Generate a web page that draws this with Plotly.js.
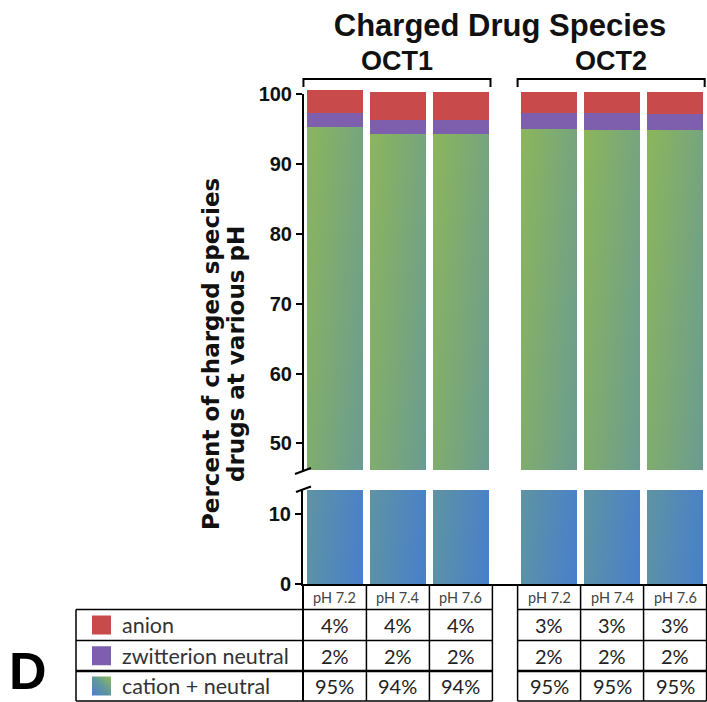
<!DOCTYPE html>
<html>
<head>
<meta charset="utf-8">
<script src="https://cdn.plot.ly/plotly-3.0.1.min.js"></script>
<style>
  html, body { margin: 0; padding: 0; background: #fff; }
  #chart { width: 707px; height: 702px; }
</style>
</head>
<body>
<svg width="0" height="0" style="position:absolute">
  <defs>
    <linearGradient id="gradTop" x1="0" y1="0" x2="1" y2="1">
      <stop offset="0" stop-color="#8cb65a"/>
      <stop offset="1" stop-color="#5f93a4"/>
    </linearGradient>
    <linearGradient id="gradBot" x1="0" y1="0" x2="1" y2="1">
      <stop offset="0" stop-color="#72a383"/>
      <stop offset="1" stop-color="#477fcc"/>
    </linearGradient>
    <linearGradient id="gradLegend" x1="0" y1="1" x2="1" y2="0">
      <stop offset="0" stop-color="#4a7fc8"/>
      <stop offset="0.5" stop-color="#5f98a0"/>
      <stop offset="1" stop-color="#8fba58"/>
    </linearGradient>
  </defs>
</svg>
<div id="chart"></div>
<script>
// ---------------- data ----------------
const groups = ['OCT1', 'OCT2'];
const phLabels = ['pH 7.2', 'pH 7.4', 'pH 7.6'];
const speciesLabels = ['anion', 'zwitterion neutral', 'cation + neutral'];
// bar values (percent): OCT1 pH7.2, 7.4, 7.6, OCT2 pH7.2, 7.4, 7.6
const cation     = [95.2, 94.3, 94.3, 95.0, 94.9, 94.9];
const zwitterion = [2.1, 2.0, 2.0, 2.3, 2.3, 2.2];
const anion      = [3.2, 4.0, 4.0, 3.0, 3.1, 3.2];
// table texts
const anionPct      = ['4%', '4%', '4%', '3%', '3%', '3%'];
const zwitterionPct = ['2%', '2%', '2%', '2%', '2%', '2%'];
const cationPct     = ['95%', '94%', '94%', '95%', '95%', '95%'];
const topTicks = [50, 60, 70, 80, 90, 100];
const bottomTicks = [0, 10];
const yTitleLines = ['Percent of charged species', 'drugs at various pH'];

// ---------------- layout helpers ----------------
const W = 707, H = 702;
const M = {l: 303, r: 0, t: 89, b: 118};
const PW = W - M.l - M.r, PH = H - M.t - M.b;
const XR = [-0.507, 5.907];
const groupGap = 0.4;
const px = v => (v - M.l) / PW;               // pixel x -> paper
const py = v => (H - M.b - v) / PH;           // pixel y -> paper
const xp = xv => (xv - XR[0]) / (XR[1] - XR[0]); // data x -> paper

const xPos = [];
groups.forEach((g, gi) => phLabels.forEach((p, pi) => xPos.push(gi * (phLabels.length + groupGap) + pi)));

const colAnion = '#c94a4a';
const colZw = '#7e5fad';
const colCation = '#6e9e88';

const traces = [
  {type: 'bar', x: xPos, y: cation, xaxis: 'x', yaxis: 'y', width: 0.9, uid: 'cationBottom',
   marker: {color: colCation, line: {width: 0}}, hoverinfo: 'skip', showlegend: false},
  {type: 'bar', x: xPos, y: cation, xaxis: 'x', yaxis: 'y2', width: 0.9, uid: 'cationTop',
   marker: {color: colCation, line: {width: 0}}, hoverinfo: 'skip', showlegend: false},
  {type: 'bar', x: xPos, y: zwitterion, xaxis: 'x', yaxis: 'y2', width: 0.9, uid: 'zw',
   marker: {color: colZw, line: {width: 0}}, hoverinfo: 'skip', showlegend: false},
  {type: 'bar', x: xPos, y: anion, xaxis: 'x', yaxis: 'y2', width: 0.9, uid: 'anion',
   marker: {color: colAnion, line: {width: 0}}, hoverinfo: 'skip', showlegend: false}
];

const boldFont = 'Liberation Sans, Arial, sans-serif';
const wideFont = 'DejaVu Sans, Verdana, sans-serif';
const tableFont = 'Lato, Open Sans, sans-serif';

const shapes = [];
const annotations = [];
const line = (x0, y0, x1, y1, w) => shapes.push({type: 'line', xref: 'paper', yref: 'paper',
  x0: x0, y0: y0, x1: x1, y1: y1, line: {color: '#000', width: w || 1.5}});

// top axis line (broken axis)
shapes.push({type: 'line', xref: 'paper', yref: 'y2', x0: 0, x1: 0, y0: 46.2, y1: 100,
  line: {color: '#000', width: 2}});
// break slashes
line(px(295), py(474), px(311), py(468), 2);
line(px(296), py(492), px(311), py(486.5), 2);

// group brackets and labels
groups.forEach((g, gi) => {
  const first = gi * (phLabels.length + groupGap);
  const last = first + phLabels.length - 1;
  const a = xp(first - 0.5), b = xp(last + 0.47);
  shapes.push({type: 'path', xref: 'paper', yref: 'paper',
    path: `M ${a} ${py(87)} L ${a} ${py(79)} L ${b} ${py(79)} L ${b} ${py(87)}`,
    line: {color: '#000', width: 2}});
  annotations.push({xref: 'paper', yref: 'paper', x: (a + b) / 2, y: py(61.5), text: g,
    showarrow: false, xanchor: 'center', yanchor: 'middle',
    font: {family: boldFont, size: 27, color: '#111', weight: 'bold'}});
});

// ---------------- table ----------------
const rowY = [609.5, 640.5, 671, 701];  // row boundaries (pixels)
const headTop = 584;
line(px(76), py(rowY[0]), px(76), py(rowY[3]));
line(px(303), py(headTop), px(303), py(rowY[3]), 2);
groups.forEach((g, gi) => {
  const first = gi * (phLabels.length + groupGap);
  const xs = [];
  for (let k = 0; k <= phLabels.length; k++) xs.push(xp(first - 0.5 + k));
  xs.forEach((xx, k) => { if (!(gi === 0 && k === 0)) line(xx, py(headTop), xx, py(rowY[3])); });
  const left = gi === 0 ? px(76) : xs[0];
  rowY.forEach((ry, k) => line(left, py(ry), xs[xs.length - 1], py(ry), k === 2 ? 2.5 : 1.5));
});
// header cells
xPos.forEach((xv, i) => {
  annotations.push({xref: 'paper', yref: 'paper', x: xp(xv), y: py(597), text: phLabels[i % phLabels.length],
    showarrow: false, xanchor: 'center', yanchor: 'middle', font: {family: tableFont, size: 14.5, color: '#444'}});
});
const rowTexts = [anionPct, zwitterionPct, cationPct];
rowTexts.forEach((arr, r) => {
  const cy = (rowY[r] + rowY[r + 1]) / 2;
  arr.forEach((t, i) => annotations.push({xref: 'paper', yref: 'paper', x: xp(xPos[i]), y: py(cy), text: t,
    showarrow: false, xanchor: 'center', yanchor: 'middle', font: {family: tableFont, size: 20, color: '#222'}}));
  annotations.push({xref: 'paper', yref: 'paper', x: px(120), y: py(cy), text: speciesLabels[r],
    showarrow: false, xanchor: 'left', yanchor: 'middle', font: {family: tableFont, size: 21.5, color: '#333'}});
});
// legend swatches
const swatchColors = [colAnion, colZw, colCation];
const swatchIdx = [];
swatchColors.forEach((c, r) => {
  const cy = (rowY[r] + rowY[r + 1]) / 2;
  swatchIdx.push(shapes.length);
  shapes.push({type: 'rect', xref: 'paper', yref: 'paper', x0: px(92), x1: px(111), y0: py(cy - 9.5), y1: py(cy + 9.5),
    fillcolor: c, line: {width: 0}});
});

// panel letter and y title
annotations.push({xref: 'paper', yref: 'paper', x: px(28), y: py(671), text: 'D', showarrow: false,
  xanchor: 'center', yanchor: 'middle', font: {family: boldFont, size: 52, color: '#000', weight: 'bold'}});
[211, 236].forEach((cx, k) => annotations.push({xref: 'paper', yref: 'paper', x: px(cx), y: py(354),
  text: yTitleLines[k], showarrow: false, textangle: -90, xanchor: 'center', yanchor: 'middle',
  font: {family: wideFont, size: 23, color: '#111', weight: 'bold'}}));

const tickFont = {family: boldFont, size: 20, color: '#111', weight: 'bold'};
const layout = {
  width: W, height: H, margin: M,
  paper_bgcolor: '#fff', plot_bgcolor: '#fff',
  barmode: 'stack', showlegend: false,
  title: {text: 'Charged Drug Species', xref: 'container', yref: 'container', x: 500 / W, y: 1 - 25 / H,
    xanchor: 'center', yanchor: 'middle', font: {family: boldFont, size: 31, color: '#111', weight: 'bold'}},
  xaxis: {range: XR, showline: true, linecolor: '#000', linewidth: 2, ticks: '', showticklabels: false,
    showgrid: false, zeroline: false, anchor: 'y', fixedrange: true},
  yaxis: {domain: [0, (584 - 490) / PH], range: [0, 13.5], tickvals: bottomTicks, ticks: 'outside', ticklen: 6,
    tickwidth: 2, tickcolor: '#000', showline: true, linecolor: '#000', linewidth: 2, showgrid: false,
    zeroline: false, tickfont: tickFont, anchor: 'x', fixedrange: true},
  yaxis2: {domain: [(584 - 470) / PH, 1], range: [46.2, 100.7], tickvals: topTicks, ticks: 'outside', ticklen: 6,
    tickwidth: 2, tickcolor: '#000', showline: false, showgrid: false, zeroline: false, tickfont: tickFont,
    anchor: 'x', fixedrange: true},
  shapes: shapes, annotations: annotations
};

function applyGradients(gd) {
  gd.querySelectorAll('g.trace.bars').forEach(g => {
    const cd = g.__data__;
    const tr = cd && cd[0] && cd[0].trace;
    if (!tr) return;
    const id = tr.uid === 'cationTop' ? 'gradTop' : (tr.uid === 'cationBottom' ? 'gradBot' : null);
    if (id) g.querySelectorAll('path').forEach(p => { p.style.fill = 'url(#' + id + ')'; });
  });
  gd.querySelectorAll('.shapelayer path').forEach(p => {
    if (p.getAttribute('data-index') === String(swatchIdx[2])) p.style.fill = 'url(#gradLegend)';
  });
}

Plotly.newPlot('chart', traces, layout, {staticPlot: true, displayModeBar: false}).then(applyGradients);
</script>
</body>
</html>
